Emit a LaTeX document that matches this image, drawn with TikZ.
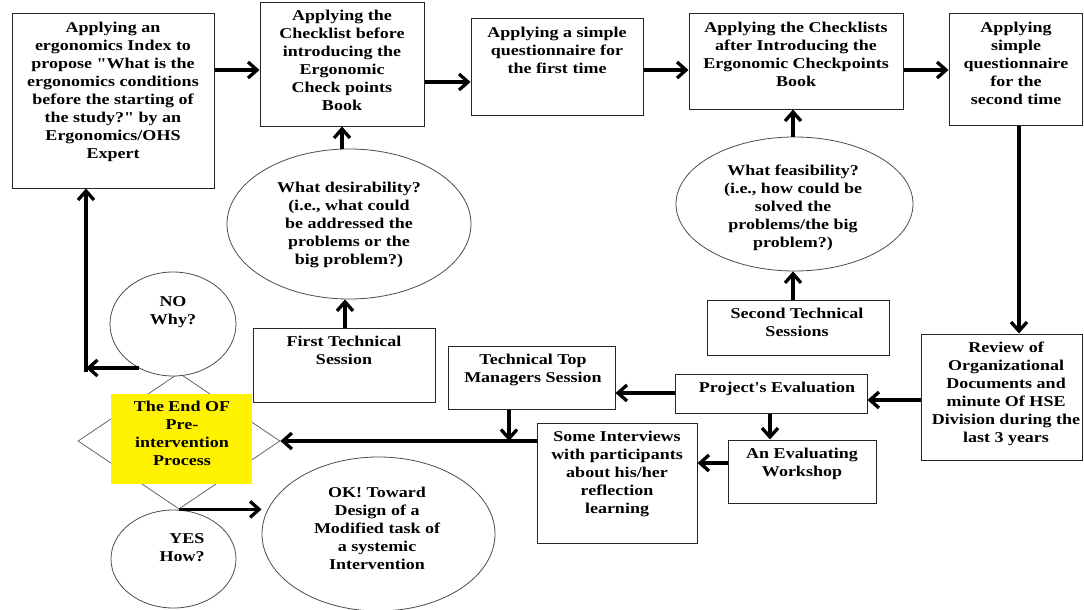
\documentclass[tikz,border=0pt]{standalone}
\usepackage{fontspec}
\setmainfont{Liberation Serif}[FakeStretch=1.2, Ligatures=TeXOff]
\usetikzlibrary{shapes.geometric,arrows.meta}
\begin{document}
\begin{tikzpicture}[x=1pt,y=1pt,
 box/.style={draw=black!85, line width=1pt, fill=white, rectangle, inner sep=0pt},
 oval/.style={draw=black!70, line width=0.8pt, fill=white, ellipse, inner sep=0pt},
 txt/.style={align=center, inner sep=0pt, font=\bfseries\fontsize{15}{18}\selectfont, execute at begin node=\strut, execute at end node=\strut},
 arr/.style={line width=3.3pt, -{Straight Barb[length=9pt,width=16pt]}},
 ]
\useasboundingbox (0,0) rectangle (1084,-610);
% top row
\node[box, minimum width=202pt, minimum height=174pt] (A) at (113,-101) {};
\node[box, minimum width=164pt, minimum height=123pt] (B) at (342,-64.5) {};
\node[box, minimum width=172pt, minimum height=96pt] (C) at (557,-67) {};
\node[box, minimum width=214pt, minimum height=95pt] (D) at (796,-61.5) {};
\node[box, minimum width=133pt, minimum height=111pt] (E) at (1015.5,-69.5) {};
% middle
\node[oval, minimum width=244pt, minimum height=150pt] (des) at (349,-224) {};
\node[oval, minimum width=237pt, minimum height=134pt] (fea) at (794.5,-204) {};
\node[box, minimum width=182pt, minimum height=74pt] (FTS) at (344,-365) {};
\node[box, minimum width=182pt, minimum height=55pt] (STS) at (798,-327.5) {};
\node[box, minimum width=161pt, minimum height=126pt] (Rev) at (1001.5,-397) {};
\node[box, minimum width=192pt, minimum height=39pt] (PE) at (771,-393.5) {};
\node[box, minimum width=167pt, minimum height=63pt] (TTM) at (531.5,-377.5) {};
\node[box, minimum width=148pt, minimum height=63pt] (WS) at (802,-471.5) {};
\node[box, minimum width=160pt, minimum height=120pt] (INT) at (617,-483) {};
% decision
\node[diamond, draw=black!60, line width=0.8pt, minimum width=202pt, minimum height=136pt, inner sep=0pt] (dia) at (179,-441) {};
\node[fill=yellow, minimum width=141pt, minimum height=90pt, inner sep=0pt] (yel) at (181.5,-439) {};
\node[oval, minimum width=126pt, minimum height=104pt] (NO) at (173,-324) {};
\node[oval, minimum width=125pt, minimum height=98pt] (YES) at (173.5,-559) {};
\node[oval, minimum width=233pt, minimum height=154pt] (OK) at (378.5,-534) {};
% texts
\node[txt] (tA) at (113,-93) {Applying an\\ ergonomics Index to\\ propose "What is the\\ ergonomics conditions\\ before the starting of\\ the study?" by an\\ Ergonomics/OHS\\ Expert};
\node[txt] (tB) at (342,-63) {Applying the\\ Checklist before\\ introducing the\\ Ergonomic\\ Check points\\ Book};
\node[txt] (tC) at (557,-53) {Applying a simple\\ questionnaire for\\ the first time};
\node[txt] (tD) at (796,-57) {Applying the Checklists\\ after Introducing the\\ Ergonomic Checkpoints\\ Book};
\node[txt] (tE) at (1016,-66) {Applying\\ simple\\ questionnaire\\ for the\\ second time};
\node[txt] (tdes) at (349,-226) {What desirability?\\ (i.e., what could\\ be addressed the\\ problems or the\\ big problem?)};
\node[txt] (tfea) at (793,-208.5) {What feasibility?\\ (i.e., how could be\\ solved the\\ problems/the big\\ problem?)};
\node[txt] (tFTS) at (344,-353) {First Technical\\ Session};
\node[txt] (tSTS) at (797,-325) {Second Technical\\ Sessions};
\node[txt] (tRev) at (1006,-395) {Review of\\ Organizational\\ Documents and\\ minute Of HSE\\ Division during the\\ last 3 years};
\node[txt] (tPE) at (777,-389) {Project's Evaluation};
\node[txt] (tTTM) at (533,-370.5) {Technical Top\\ Managers Session};
\node[txt] (tWS) at (802,-465) {An Evaluating\\ Workshop};
\node[txt] (tINT) at (617,-474.5) {Some Interviews\\ with participants\\ about his/her\\ reflection\\ learning};
\node[txt] (tyel) at (182,-436) {The End OF\\ Pre-\\ intervention\\ Process};
\node[txt] (tNO) at (173,-313.5) {NO\\ Why?};
\node[txt] (tYES) at (182,-550) {\hspace{10pt}YES\\ How?};
\node[txt] (tOK) at (377,-531) {OK! Toward\\ Design of a\\ Modified task of\\ a systemic\\ Intervention};
% connectors
\draw[arr] (A.east |- 0,-70) -- (B.west |- 0,-70);
\draw[arr] (B.east |- 0,-82) -- (C.west |- 0,-82);
\draw[arr] (C.east |- 0,-70) -- (D.west |- 0,-70);
\draw[arr] (D.east |- 0,-70) -- (E.west |- 0,-70);
\draw[arr] (E.south -| 1019,0) -- (Rev.north -| 1019,0);
\draw[arr] (Rev.west |- 0,-400) -- (PE.east |- 0,-400);
\draw[arr] (PE.west |- 0,-393) -- (TTM.east |- 0,-393);
\draw[arr] (PE.south -| 770,0) -- (WS.north -| 770,0);
\draw[arr] (WS.west |- 0,-463) -- (INT.east |- 0,-463);
\draw[arr] (INT.west |- dia.east) -- (dia.east);
\coordinate (j1) at (509,-441);
\draw[arr] (TTM.south -| j1) -- (j1);
\draw[arr] (FTS.north -| 345,0) -- (des.south -| 345,0);
\draw[arr] (des.north -| 342,0) -- (B.south -| 342,0);
\draw[arr] (STS.north -| 793,0) -- (fea.south -| 793,0);
\draw[arr] (fea.north -| 793,0) -- (D.south -| 793,0);
\coordinate (c1) at (86,-368);
\draw[arr] (NO.233 |- c1) -- (c1);
\draw[arr] ([yshift=-4pt]c1) -- (A.south -| c1);
\draw[arr] (dia.south) -- (dia.south -| OK.west);
\end{tikzpicture}
\end{document}
